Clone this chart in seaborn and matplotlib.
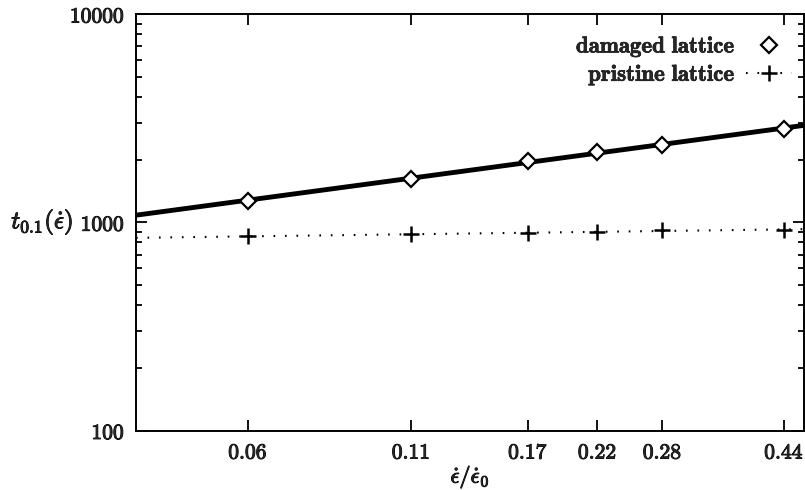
import numpy as np
import pandas as pd
import seaborn as sns
import matplotlib.pyplot as plt
import matplotlib.patheffects as pe
from matplotlib.lines import Line2D
from matplotlib.ticker import NullFormatter, LogLocator, NullLocator

# strain rate values (tick labels) and t_0.1 measurements
rates = [0.06, 0.11, 0.17, 0.22, 0.28, 0.44]
rate_labels = ["0.06", "0.11", "0.17", "0.22", "0.28", "0.44"]
damaged = [1269, 1618, 1960, 2183, 2358, 2800]
pristine = [855, 877, 887, 900, 915, 920]
y_ticks = [100, 1000, 10000]
y_labels = ["100", "1000", "10000"]

x_min, x_max = 0.0396, 0.474


def power_fit(x, y, x_span):
    # straight line in log-log space
    b, a = np.polyfit(np.log10(x), np.log10(y), 1)
    xs = np.array(x_span)
    return pd.DataFrame({"x": xs, "y": 10 ** (a + b * np.log10(xs))})


sns.set_theme(style="ticks")
plt.rcParams["mathtext.fontset"] = "cm"
plt.rcParams["font.family"] = ["DejaVu Serif"]

df = pd.DataFrame({"rate": rates, "damaged": damaged, "pristine": pristine})
fit_d = power_fit(rates, damaged, [x_min, x_max])
fit_p = power_fit(rates, pristine, [x_min, x_max])

fig = plt.figure(figsize=(8.05, 4.9), dpi=100)
ax = fig.add_axes([0.169, 0.1214, 0.8298, 0.85])

sns.lineplot(data=fit_d, x="x", y="y", ax=ax, color="black", lw=3.5, legend=False)
sns.lineplot(data=fit_p, x="x", y="y", ax=ax, color="black", lw=1.5,
             linestyle=(0, (0.8, 4.7)), legend=False)
ax.plot(df["rate"], df["damaged"], linestyle="none", marker="D", ms=8,
        mfc="white", mec="black", mew=1.6)
ax.plot(df["rate"], df["pristine"], linestyle="none", marker="+", ms=11,
        mec="black", mew=1.8)

ax.set_xscale("log")
ax.set_yscale("log")
ax.set_xlim(x_min, x_max)
ax.set_ylim(100, 10000)

ax.set_xticks(rates)
ax.set_xticklabels([r"$\mathbf{%s}$" % s for s in rate_labels])
ax.xaxis.set_minor_locator(NullLocator())
ax.set_yticks(y_ticks)
ax.set_yticklabels([r"$\mathbf{%s}$" % s for s in y_labels])
ax.yaxis.set_minor_locator(LogLocator(base=10, subs=np.arange(2, 10)))
ax.yaxis.set_minor_formatter(NullFormatter())

ax.tick_params(which="both", direction="in", top=True, right=True,
               color="black", width=1.3)
ax.tick_params(which="major", length=8, labelsize=15.5, pad=8)
ax.tick_params(which="minor", length=4.5)
for sp in ax.spines.values():
    sp.set_linewidth(1.4)
    sp.set_color("black")

ax.set_xlabel(r"$\dot{\epsilon}/\dot{\epsilon}_0$", fontsize=16, labelpad=0)
ax.set_ylabel(r"$t_{0.1}(\dot{\epsilon})$", fontsize=18, rotation=0,
              ha="right", va="center")
ax.yaxis.set_label_coords(-0.094, 0.5)

handles = [
    Line2D([], [], linestyle="none", marker="D", ms=8, mfc="white",
           mec="black", mew=1.6),
    Line2D([], [], color="black", lw=1.5, linestyle=(0, (0.8, 4.7)),
           marker="+", ms=11, mew=1.8),
]
leg = ax.legend(handles, [r"$\mathbf{damaged\ lattice}$", r"$\mathbf{pristine\ lattice}$"],
                loc="upper right", frameon=False, markerfirst=False, fontsize=16.5,
                handlelength=2.0, handletextpad=0.45, labelspacing=0.1,
                bbox_to_anchor=(0.995, 0.975), borderaxespad=0)

# thicken the text a little, the scanned original is heavy
thick = [pe.withStroke(linewidth=0.7, foreground="black")]
for t in ax.get_xticklabels() + ax.get_yticklabels():
    t.set_path_effects(thick)
for t in leg.get_texts():
    t.set_path_effects([pe.withStroke(linewidth=0.45, foreground="black")])
ax.xaxis.label.set_path_effects(thick)
ax.yaxis.label.set_path_effects(thick)

fig.savefig("out.png", dpi=100)
